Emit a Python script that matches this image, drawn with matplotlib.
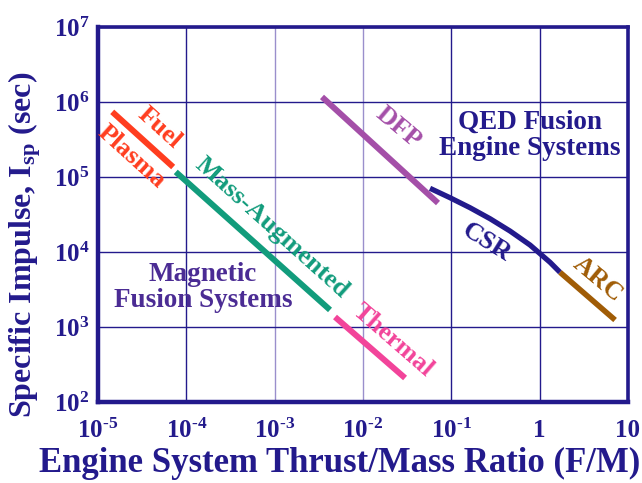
import matplotlib
matplotlib.use("Agg")
import matplotlib.pyplot as plt

# line segments (F/M, Isp)
fuel_x = [1.45e-5, 7.1e-5]
fuel_y = [7.4e5, 1.36e5]
mass_x = [7.6e-5, 4.24e-3]
mass_y = [1.17e5, 1.69e3]
thermal_x = [4.83e-3, 0.030]
thermal_y = [1.36e3, 209]
dfp_x = [3.44e-3, 0.0708]
dfp_y = [1.17e6, 4.5e4]
csr_x = [0.0575, 0.0968, 0.163, 0.275, 0.463, 0.780, 1.315, 1.706]
csr_y = [7.07e4, 5.30e4, 3.90e4, 2.78e4, 1.905e4, 1.24e4, 7.29e3, 5.36e3]
arc_x = [1.706, 7.16]
arc_y = [5.36e3, 1.24e3]

xticks = [1e-5, 1e-4, 1e-3, 1e-2, 1e-1, 1, 10]
xlabels = [r'$10^{\text{-}5}$', r'$10^{\text{-}4}$', r'$10^{\text{-}3}$',
           r'$10^{\text{-}2}$', r'$10^{\text{-}1}$', '1', '10']
yticks = [1e2, 1e3, 1e4, 1e5, 1e6, 1e7]
ylabels = ['$10^{2}$', '$10^{3}$', '$10^{4}$', '$10^{5}$', '$10^{6}$', '$10^{7}$']

navy = '#231a8c'
plt.rcParams['font.family'] = ['Liberation Serif', 'DejaVu Serif']
plt.rcParams['font.weight'] = 'bold'
plt.rcParams['mathtext.fontset'] = 'custom'
plt.rcParams['mathtext.rm'] = 'Liberation Serif:bold'
plt.rcParams['mathtext.it'] = 'Liberation Serif:bold'
plt.rcParams['mathtext.bf'] = 'Liberation Serif:bold'

fig = plt.figure(figsize=(6.42, 4.83), dpi=100)
ax = fig.add_axes([0.1526, 0.1677, 0.8254, 0.7763])
ax.set_xscale('log')
ax.set_yscale('log')
ax.set_xlim(1e-5, 10)
ax.set_ylim(1e2, 1e7)

ax.plot(fuel_x, fuel_y, color='#ff3d1f', lw=4.3, solid_capstyle='butt')
ax.plot(mass_x, mass_y, color='#129c7c', lw=4.3, solid_capstyle='butt')
ax.plot(thermal_x, thermal_y, color='#f2449a', lw=4.3, solid_capstyle='butt')
ax.plot(dfp_x, dfp_y, color='#a44fa8', lw=4.3, solid_capstyle='butt')
ax.plot(csr_x, csr_y, color=navy, lw=3.8, solid_capstyle='butt', solid_joinstyle='round')
ax.plot(arc_x, arc_y, color='#a05c06', lw=4.0, solid_capstyle='butt')

ax.set_xticks(xticks)
ax.set_xticklabels(xlabels)
ax.set_yticks(yticks)
ax.set_yticklabels(ylabels)
ax.minorticks_off()
ax.tick_params(axis='x', length=0, pad=12, labelsize=18, labelcolor=navy)
ax.tick_params(axis='y', length=0, pad=6, labelsize=18, labelcolor=navy)

ax.grid(True, color=navy, lw=1.0)
ax.set_axisbelow(True)
xgl = ax.get_xgridlines()
for i in [2, 3]:
    xgl[i].set_color('#9a8fcc')

for side in ['left', 'bottom']:
    ax.spines[side].set_linewidth(3.2)
for side in ['top', 'right']:
    ax.spines[side].set_linewidth(2.6)
for sp in ax.spines.values():
    sp.set_color(navy)

fig.text(340 / 642, 1 - 463 / 483, 'Engine System Thrust/Mass Ratio (F/M)',
         fontsize=25, color=navy, ha='center', va='center')
fig.text(25 / 642, 1 - 245 / 483, r'Specific Impulse, I$_{\mathrm{sp}}$ (sec)',
         fontsize=23, color=navy, ha='center', va='center', rotation=90)

kw = dict(ha='center', va='center', rotation_mode='anchor', fontsize=19)
ax.text(5.0e-5, 4.6e5, 'Fuel', color='#ff3d1f', rotation=-42, **kw)
ax.text(2.4e-5, 1.85e5, 'Plasma', color='#ff3d1f', rotation=-42, **kw)
ax.text(9.3e-4, 2.1e4, 'Mass-Augmented', color='#129c7c', rotation=-42, **kw)
ax.text(0.0219, 671, 'Thermal', color='#f2449a', rotation=-41, **kw)
ax.text(0.025, 4.6e5, 'DFP', color='#a44fa8', rotation=-40, **kw)
ax.text(0.254, 1.36e4, 'CSR', color=navy, rotation=-32, **kw)
ax.text(4.6, 4.3e3, 'ARC', color='#a05c06', rotation=-40, **kw)
ax.text(0.78, 3.6e5, 'QED Fusion\nEngine Systems', color=navy, ha='center',
        va='center', fontsize=19.5, linespacing=1.05)
ax.text(1.54e-4, 3.4e3, 'Magnetic\nFusion Systems', color='#4b2c94',
        ha='center', va='center', fontsize=19.5, linespacing=1.05)

fig.savefig('out.png', dpi=100)
